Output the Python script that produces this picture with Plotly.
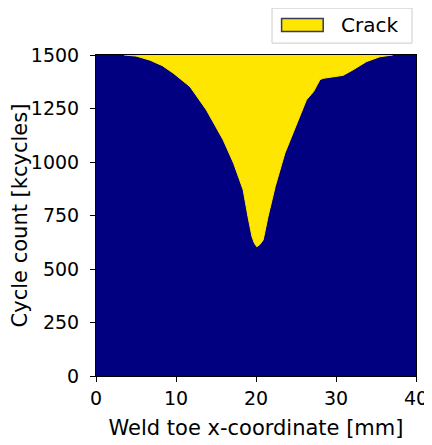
import plotly.graph_objects as go

# crack front boundary (x in mm, cycles in kcycles)
crack_x_mm = [3.5, 5.0, 6.75, 8.3, 9.7, 11.75, 13.8, 15.9, 17.2, 18.4, 19.0, 19.5, 19.8,
              20.1, 20.5, 20.9, 21.5, 22.4, 23.6, 24.9, 26.3, 27.2, 28.0, 28.4, 29.6,
              30.9, 32.1, 33.8, 35.5, 37.1]
crack_kcycles = [1500, 1495, 1476, 1450, 1414, 1352, 1243, 1103, 994, 869, 744, 651, 620,
                 604, 615, 636, 744, 885, 1040, 1165, 1290, 1329, 1385, 1391, 1399,
                 1405, 1430, 1469, 1492, 1500]

x_ticks = [0, 10, 20, 30, 40]
y_ticks = [0, 250, 500, 750, 1000, 1250, 1500]

navy = "#000080"
yellow = "#ffe600"

fig = go.Figure()

fig.add_trace(go.Scatter(
    x=crack_x_mm,
    y=crack_kcycles,
    mode="lines",
    fill="toself",
    fillcolor=yellow,
    line=dict(color=yellow, width=1),
    name="Crack",
    showlegend=False,
    hoverinfo="skip",
))

axis_style = dict(
    showline=True, linecolor="black", linewidth=1, mirror=True,
    ticks="outside", ticklen=5, tickcolor="black",
    showgrid=False, zeroline=False,
    tickfont=dict(size=19, color="black"),
)

# legend box drawn by hand so the patch looks like the matplotlib one
legend_shapes = [
    dict(type="rect", xref="paper", yref="paper", x0=0.55, x1=0.9875, y0=1.037, y1=1.146,
         line=dict(color="#cccccc", width=1), fillcolor="white", layer="above"),
    dict(type="rect", xref="paper", yref="paper", x0=0.580, x1=0.710, y0=1.073, y1=1.114,
         line=dict(color="#3a3a55", width=1.5), fillcolor=yellow, layer="above"),
]

# page body has an 8px margin, so the figure is 8px smaller than the window
fig.update_layout(
    width=424, height=437,
    margin=dict(l=88, r=16, t=47, b=69, autoexpand=False),
    paper_bgcolor="white",
    plot_bgcolor=navy,
    font=dict(family="DejaVu Sans", size=19, color="black"),
    xaxis=dict(range=[0, 40], tickvals=x_ticks,
               title=dict(text="Weld toe x-coordinate [mm]", font=dict(size=21), standoff=12),
               **axis_style),
    yaxis=dict(range=[0, 1500], tickvals=y_ticks, ticklabelstandoff=7,
               title=dict(text="Cycle count [kcycles]", font=dict(size=21), standoff=0),
               **axis_style),
    shapes=legend_shapes,
    annotations=[dict(text="Crack", xref="paper", yref="paper", x=0.76, y=1.093,
                      xanchor="left", yanchor="middle", showarrow=False,
                      font=dict(size=20, color="black"))],
)

fig.write_html("out.html")
